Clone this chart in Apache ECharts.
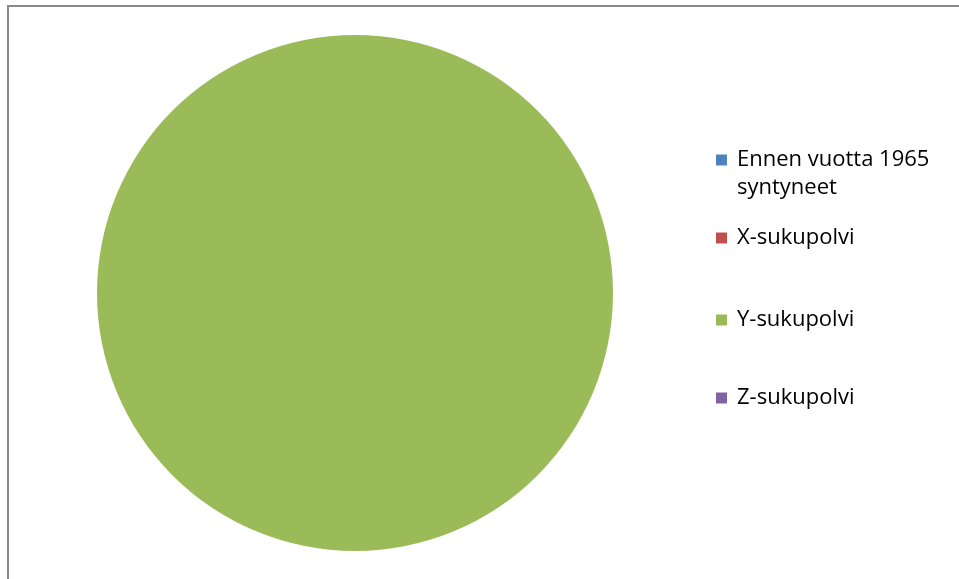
<!DOCTYPE html>
<html>
<head>
<meta charset="utf-8">
<script src="https://cdn.jsdelivr.net/npm/echarts@6/dist/echarts.min.js"></script>
<style>
html, body { margin: 0; padding: 0; background: #fff; }
#main { width: 959px; height: 579px; }
</style>
</head>
<body>
<div id="main"></div>
<script>
// sarjat ja arvot (vain Y-sukupolvi on nollasta poikkeava)
var names = ['Ennen vuotta 1965 syntyneet', 'X-sukupolvi', 'Y-sukupolvi', 'Z-sukupolvi'];
var values = [0, 0, 100, 0];
var colors = ['#4F81BD', '#C0504D', '#9BBB59', '#8064A2'];

var myChart = echarts.init(document.getElementById('main'));

var pieData = [];
for (var i = 0; i < names.length; i++) {
	pieData.push({name: names[i], value: values[i], itemStyle: {color: colors[i]}});
}

// ikonin keskikohta: 160, 238, 320, 398
var legendTops = [118, 224, 306, 384];
var legends = [];
for (var j = 0; j < names.length; j++) {
	legends.push({
		left: 716,
		top: legendTops[j],
		padding: 0,
		orient: 'vertical',
		selectedMode: false,
		icon: 'rect',
		itemWidth: 11,
		itemHeight: 11,
		data: [names[j]],
		formatter: function (n) {
			// tyhjä ensimmäinen rivi, jotta ikoni osuu ensimmäiselle tekstiriville
			return n == names[0] ? '\nEnnen vuotta 1965\nsyntyneet' : n;
		},
		textStyle: {
			fontFamily: 'Open Sans',
			fontSize: 22,
			color: '#000',
			lineHeight: 28,
			padding: [0, 0, 0, 5]
		}
	});
}

var option = {
	animation: false,
	backgroundColor: '#fff',
	legend: legends,
	graphic: [{
		type: 'rect',
		shape: {x: 8, y: 6, width: 1200, height: 1000},
		style: {fill: 'none', stroke: '#8a8a8a', lineWidth: 2},
		silent: true
	}],
	series: [{
		name: 'Sukupolvet',
		type: 'pie',
		center: [355, 293],
		radius: 258,
		startAngle: 90,
		label: {show: false},
		labelLine: {show: false},
		emphasis: {disabled: true},
		data: pieData
	}]
};

myChart.setOption(option);
</script>
</body>
</html>
